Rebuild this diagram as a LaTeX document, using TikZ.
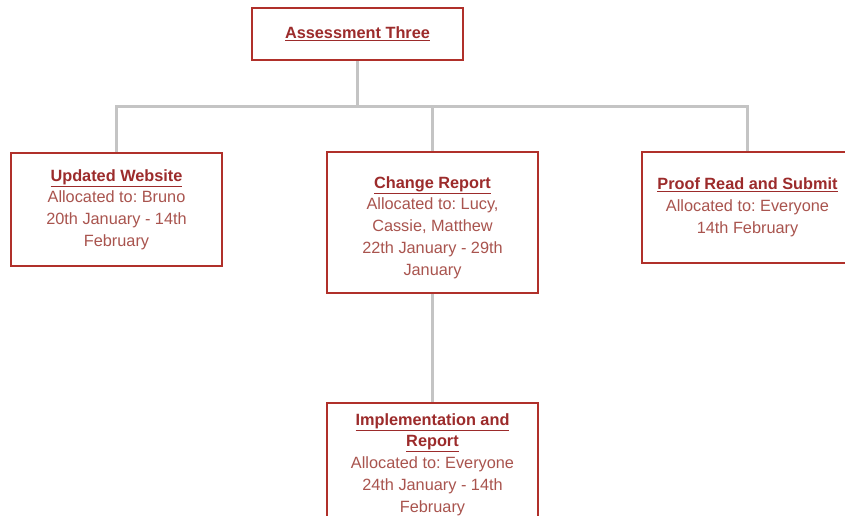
\documentclass[tikz,border=0pt]{standalone}
\usepackage{fontspec}
\setmainfont{Liberation Sans}
\usepackage{tikz}
\usetikzlibrary{positioning, calc}
\definecolor{boxred}{HTML}{B0302A}
\definecolor{titlered}{HTML}{9C2B2B}
\definecolor{bodyred}{HTML}{A9544E}
\definecolor{linkgray}{HTML}{C4C4C4}
\newcommand{\tasktitle}[1]{\textbf{\color{titlered}\underline{#1}}}
\frenchspacing

\begin{document}
\begin{tikzpicture}[
  x=1pt, y=-1pt,
  task/.style={draw=boxred, line width=2.6pt, fill=white, minimum width=211pt, align=center, inner sep=0pt,
    text=bodyred, font=\fontsize{16.3}{21.75}\selectfont},
  link/.style={draw=linkgray, line width=2.5pt}
]
\useasboundingbox (0,0) rectangle (845,515);

\node[task, minimum height=52pt]  (t-root)   at (357.5,34)   {\tasktitle{Assessment Three}};
\node[task, minimum height=113pt] (t-web)    at (116.5,209.5) {\tasktitle{Updated Website}\\Allocated to: Bruno\\20th January - 14th\\February};
\node[task, minimum height=141pt] (t-report) at (432.5,222.5) {\mbox{}\\\tasktitle{Change Report}\\Allocated to: Lucy,\\Cassie, Matthew\\22th January - 29th\\January};
\node[task, minimum height=111pt] (t-proof)  at (747.5,207.5) {\tasktitle{Proof Read and Submit}\\Allocated to: Everyone\\14th February};
\node[task, minimum height=141pt] (t-impl)   at (432.5,473.5) {\tasktitle{Implementation and}\\\tasktitle{Report}\\Allocated to: Everyone\\24th January - 14th\\February\\\mbox{}};

\coordinate (bus) at ($(t-root.south)+(0,45)$);

\draw[link] (t-root.south) -- (bus);
\draw[link] (t-web.north) |- (bus) -| (t-proof.north);
\draw[link] (t-report.north) -- (t-report.north |- bus);
\draw[link] (t-report.south) -- (t-impl.north);

\end{tikzpicture}
\end{document}
